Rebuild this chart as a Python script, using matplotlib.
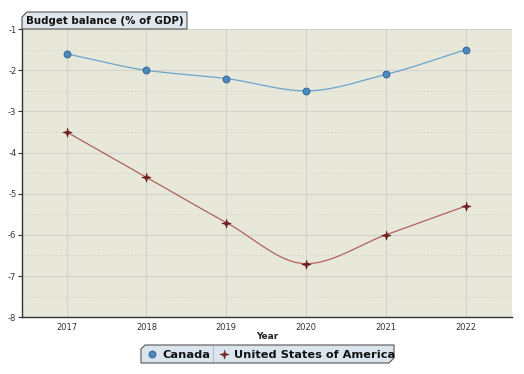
import numpy as np
import matplotlib.pyplot as plt
from matplotlib.patches import Polygon
from matplotlib.lines import Line2D

plt.rcParams['axes.unicode_minus'] = False

years = [2017, 2018, 2019, 2020, 2021, 2022]
canada = [-1.6, -2.0, -2.2, -2.5, -2.1, -1.5]
usa = [-3.5, -4.6, -5.7, -6.7, -6.0, -5.3]


def smooth(x, y, n=40):
    # monotone cubic curve through the points (for the line shape only)
    x = np.asarray(x, float)
    y = np.asarray(y, float)
    h = np.diff(x)
    d = np.diff(y) / h
    m = np.zeros_like(y)
    m[0], m[-1] = d[0], d[-1]
    for i in range(1, len(y) - 1):
        if d[i - 1] * d[i] > 0:
            m[i] = 2 / (1 / d[i - 1] + 1 / d[i])
    xs, ys = [], []
    for i in range(len(h)):
        t = np.linspace(0, 1, n)
        h00 = 2 * t**3 - 3 * t**2 + 1
        h10 = t**3 - 2 * t**2 + t
        h01 = -2 * t**3 + 3 * t**2
        h11 = t**3 - t**2
        xs.append(x[i] + t * h[i])
        ys.append(h00 * y[i] + h10 * h[i] * m[i] + h01 * y[i + 1] + h11 * h[i] * m[i + 1])
    return np.concatenate(xs), np.concatenate(ys)


fig = plt.figure(figsize=(5.24, 3.74), dpi=100)
ax = fig.add_axes([0.042, 0.152, 0.935, 0.770])
ax.set_facecolor('#e8e8da')

ax.set_xlim(2016.44, 2022.58)
ax.set_ylim(-8, -1)
ax.set_yticks(range(-8, 0))
ax.set_yticks(np.arange(-7.5, -1, 1), minor=True)
ax.set_xticks(years)
ax.grid(True, which='major', color='#d4d4ce', lw=0.9)
ax.grid(True, which='minor', axis='y', color='#d8d8d0', lw=0.6, ls=(0, (3, 2)))
ax.set_axisbelow(True)
ax.tick_params(labelsize=6, color='#333333', labelcolor='#333333')
ax.tick_params(axis='y', length=3, pad=1)
ax.tick_params(axis='x', length=0, pad=4)
ax.tick_params(which='minor', length=0)
for s in ['top', 'right']:
    ax.spines[s].set_visible(False)
for s in ['left', 'bottom']:
    ax.spines[s].set_color('#333333')
    ax.spines[s].set_linewidth(1.0)
ax.set_xlabel('Year', fontsize=6.5, fontweight='bold', labelpad=0, color='#222222')

sx, sy = smooth(years, canada)
ax.plot(sx, sy, color='#6aa3cc', lw=0.9)
ax.plot(years, canada, 'o', ms=5, mfc='#4a88c2', mec='#2f5f8a', mew=0.6)

sx, sy = smooth(years, usa)
ax.plot(sx, sy, color='#b0625a', lw=0.9)
star = [(0, 1), (0.22, 0.22), (1, 0), (0.22, -0.22), (0, -1), (-0.22, -0.22), (-1, 0), (-0.22, 0.22)]
ax.plot(years, usa, ls='none', marker=star, ms=6.5, mfc='#7a2020', mec='#5a1515', mew=0.5)

# title tab
W, H = 524, 374
def px(x, y):
    return (x / W, 1 - y / H)

tab = Polygon([px(22, 29), px(22, 17), px(27, 12), px(187, 12), px(187, 29)],
              closed=True, transform=fig.transFigure, facecolor='#dfe6ec',
              edgecolor='#555555', lw=0.8, zorder=5)
fig.patches.append(tab)
fig.text(26 / W, 1 - 20.5 / H, 'Budget balance (% of GDP)', fontsize=7.4,
         fontweight='bold', va='center', ha='left', color='#111111', zorder=6)

# legend box
leg = Polygon([px(141, 363), px(141, 349), px(145, 345), px(394, 345), px(394, 358), px(389, 363)],
              closed=True, transform=fig.transFigure, facecolor='#dbe5ee',
              edgecolor='#555555', lw=0.8, zorder=5)
fig.patches.append(leg)
fig.lines.append(Line2D([213 / W, 213 / W], [1 - 346 / H, 1 - 362 / H], transform=fig.transFigure,
                        color='#aab4bc', lw=0.6, zorder=6))
fig.lines.append(Line2D([152 / W], [1 - 354 / H], transform=fig.transFigure, marker='o', ms=5,
                        mfc='#4a88c2', mec='#2f5f8a', mew=0.6, zorder=6))
fig.lines.append(Line2D([224 / W], [1 - 354 / H], transform=fig.transFigure, marker=star, ms=6.5,
                        mfc='#8a2525', mec='#5a1515', mew=0.4, zorder=6))
fig.text(162 / W, 1 - 354.5 / H, 'Canada', fontsize=8.2, fontweight='bold', va='center',
         ha='left', color='#111111', zorder=7)
fig.text(234 / W, 1 - 354.5 / H, 'United States of America', fontsize=8.2, fontweight='bold',
         va='center', ha='left', color='#111111', zorder=7)

fig.savefig('out.png', dpi=100)
